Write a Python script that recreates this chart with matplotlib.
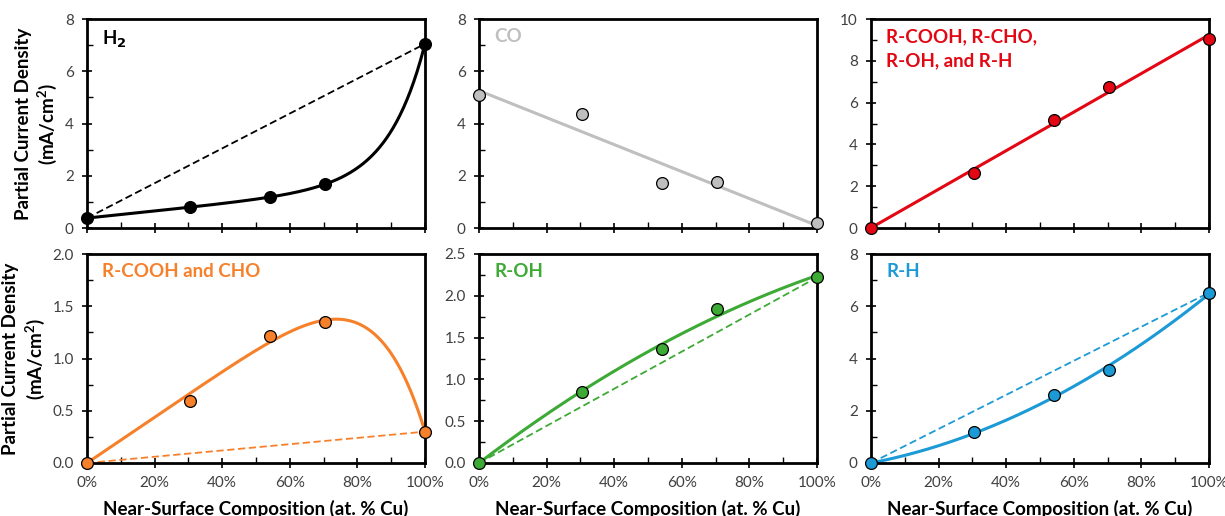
import numpy as np
import matplotlib.pyplot as plt
from matplotlib.ticker import MultipleLocator, PercentFormatter

plt.rcParams['font.family'] = ['Lato', 'DejaVu Sans']

# near-surface composition (fraction Cu)
x_cu = [0.0, 0.305, 0.54, 0.705, 1.0]

# partial current densities (mA/cm2)
j_h2 = [0.38, 0.80, 1.18, 1.68, 7.05]
j_co = [5.10, 4.35, 1.72, 1.75, 0.20]
j_total = [0.0, 2.62, 5.18, 6.73, 9.05]
j_cooh = [0.0, 0.59, 1.22, 1.35, 0.30]
j_oh = [0.0, 0.85, 1.36, 1.84, 2.22]
j_rh = [0.0, 1.20, 2.60, 3.57, 6.52]

labels = ['H$_\\mathbf{2}$', 'CO', 'R-COOH, R-CHO,\nR-OH, and R-H',
          'R-COOH and CHO', 'R-OH', 'R-H']
colors = ['black', '#BFBFBF', '#E30613', '#F7802A', '#3DAA35', '#1C9AD6']
ylims = [(0, 8), (0, 8), (0, 10), (0, 2.0), (0, 2.5), (0, 8)]
ymajor = [2, 2, 2, 0.5, 0.5, 2]


def scan_fit(x, y, basis, ks):
    # for each exponent k solve the linear coefficients, keep the best one
    best = None
    for k in ks:
        A = basis(x, k)
        coef = np.linalg.lstsq(A, y, rcond=None)[0]
        err = np.sum((A @ coef - y) ** 2)
        if best is None or err < best[0]:
            best = (err, k, coef)
    return best[1], best[2]


def fit_curve(x, y, kind):
    xs = np.linspace(0, 1, 300)
    x = np.array(x)
    y = np.array(y)
    if kind == 'exp':
        # y = y0 + b*x + c*(exp(k*x) - 1), anchored at the first point
        y0 = y[0]
        basis = lambda t, k: np.c_[t, np.exp(k * t) - 1]
        k, coef = scan_fit(x, y - y0, basis, np.linspace(2, 12, 201))
        return xs, y0 + basis(xs, k) @ coef
    if kind == 'peak':
        # y = a*x - c*x^k
        basis = lambda t, k: np.c_[t, -t ** k]
        k, coef = scan_fit(x, y, basis, np.linspace(2, 10, 161))
        return xs, basis(xs, k) @ coef
    if kind == 'lin':
        p = np.polyfit(x, y, 1)
        return xs, np.polyval(p, xs)
    # quadratic through the origin
    A = np.c_[x, x ** 2]
    coef = np.linalg.lstsq(A, y, rcond=None)[0]
    return xs, np.c_[xs, xs ** 2] @ coef


series = [j_h2, j_co, j_total, j_cooh, j_oh, j_rh]
kinds = ['exp', 'lin', 'lin', 'peak', 'quad', 'quad']
dashed = [True, False, False, True, True, True]

fig = plt.figure(figsize=(12.25, 5.16), dpi=100)
lefts = [87, 479, 871]
tops = [19, 254]
W, H = 338 / 1225, 209 / 516

for i in range(6):
    r, c = divmod(i, 3)
    ax = fig.add_axes([lefts[c] / 1225, 1 - (tops[r] + 209) / 516, W, H])
    col = colors[i]
    y = series[i]

    xs, ys = fit_curve(x_cu, y, kinds[i])
    ax.plot(xs, ys, color=col, lw=2.2, zorder=2)
    if dashed[i]:
        ax.plot([x_cu[0], x_cu[-1]], [y[0], y[-1]], color=col, lw=1.3,
                ls=(0, (4, 2)), zorder=2)
    ax.plot(x_cu, y, 'o', ms=8.5, mfc=col, mec='black', mew=0.9,
            zorder=3, clip_on=False)

    ax.set_xlim(0, 1)
    ax.set_ylim(*ylims[i])
    ax.xaxis.set_major_locator(MultipleLocator(0.2))
    ax.xaxis.set_minor_locator(MultipleLocator(0.1))
    ax.yaxis.set_major_locator(MultipleLocator(ymajor[i]))
    ax.yaxis.set_minor_locator(MultipleLocator(ymajor[i] / 2))
    if ymajor[i] < 1:
        ax.yaxis.set_major_formatter(lambda v, p: f'{v:.1f}')
    ax.tick_params(which='major', direction='inout', length=7, width=1.2,
                   labelsize=11, labelcolor='#404040', color='black', pad=6)
    ax.tick_params(which='minor', direction='in', length=4, width=1.0)
    for s in ax.spines.values():
        s.set_linewidth(2)
        s.set_color('black')

    if r == 1:
        ax.xaxis.set_major_formatter(PercentFormatter(1.0, decimals=0))
        ax.set_xlabel('Near-Surface Composition (at. % Cu)', fontsize=13.5,
                      fontweight='bold', labelpad=7)
    else:
        ax.tick_params(axis='x', labelbottom=False)
    if c == 0:
        ax.set_ylabel('Partial Current Density\n(mA/cm$^\\mathregular{2}$)',
                      fontsize=13.5, fontweight='bold', labelpad=4)

    ax.text(0.045, 0.955, labels[i], transform=ax.transAxes, color=col,
            fontsize=13.5, fontweight='bold', ha='left', va='top',
            linespacing=1.5)

fig.savefig('out.png', dpi=100)
